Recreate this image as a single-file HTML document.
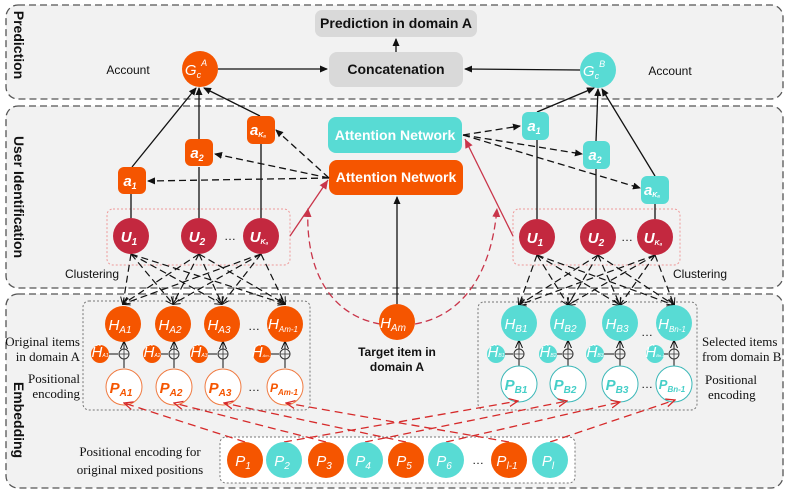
<!DOCTYPE html>
<html><head><meta charset="utf-8"><style>
html,body{margin:0;padding:0;background:#fff;}
svg{display:block;}
text{font-family:"Liberation Sans",sans-serif;}
.w{fill:#fff;font-style:italic;font-size:15px;text-anchor:middle;}
.s{font-family:"Liberation Serif",serif;font-size:13px;fill:#111;}
</style></head><body>
<svg width="790" height="492" viewBox="0 0 790 492" xmlns="http://www.w3.org/2000/svg">
<defs>
<marker id="ab" markerWidth="8" markerHeight="8" refX="7" refY="4" orient="auto" markerUnits="userSpaceOnUse"><path d="M0,0.5 L8,4 L0,7.5 Z" fill="#111"/></marker>
<marker id="ao" markerWidth="8" markerHeight="8" refX="7" refY="4" orient="auto" markerUnits="userSpaceOnUse"><path d="M0,0.5 L8,4 L0,7.5" fill="none" stroke="#111" stroke-width="1"/></marker>
<marker id="ar" markerWidth="10" markerHeight="10" refX="9" refY="5" orient="auto" markerUnits="userSpaceOnUse"><path d="M0,1 L9,5 L0,9" fill="none" stroke="#d62a2a" stroke-width="1.3"/></marker>
<marker id="arf" markerWidth="10" markerHeight="10" refX="9" refY="5" orient="auto" markerUnits="userSpaceOnUse"><path d="M0,1 L9,5 L0,9 Z" fill="#c9354a"/></marker>
</defs>
<!-- panels -->
<rect x="6" y="5" width="777" height="94" rx="12" fill="#f2f2f2" stroke="#555" stroke-width="1.3" stroke-dasharray="7,4"/>
<rect x="6" y="106" width="777" height="182" rx="12" fill="#f2f2f2" stroke="#555" stroke-width="1.3" stroke-dasharray="7,4"/>
<rect x="6" y="294" width="777" height="194" rx="12" fill="#f2f2f2" stroke="#555" stroke-width="1.3" stroke-dasharray="7,4"/>
<text transform="translate(14,45) rotate(90)" font-size="14" font-weight="bold" text-anchor="middle" fill="#111">Prediction</text>
<text transform="translate(14,197) rotate(90)" font-size="14" font-weight="bold" text-anchor="middle" fill="#111">User Identification</text>
<text transform="translate(14,420) rotate(90)" font-size="14" font-weight="bold" text-anchor="middle" fill="#111">Embedding</text>

<!-- prediction -->
<rect x="315" y="10" width="162" height="27" rx="7" fill="#d9d9d9"/>
<text x="396" y="28" font-size="14" font-weight="bold" text-anchor="middle" fill="#111">Prediction in domain A</text>
<rect x="329" y="52" width="134" height="35" rx="8" fill="#d9d9d9"/>
<text x="396" y="74" font-size="14" font-weight="bold" text-anchor="middle" fill="#111">Concatenation</text>
<line x1="396" y1="52" x2="396" y2="39" stroke="#111" stroke-width="1.3" marker-end="url(#ab)"/>
<circle cx="200" cy="69" r="18" fill="#f55500"/>
<text x="196" y="75" class="w" font-size="14">G<tspan font-size="9" dy="3">c</tspan><tspan font-size="9" dy="-12">A</tspan></text>
<circle cx="598" cy="70" r="18" fill="#58dbd4"/>
<text x="594" y="76" class="w" font-size="14">G<tspan font-size="9" dy="3">c</tspan><tspan font-size="9" dy="-12">B</tspan></text>
<text x="128" y="74" font-size="12" text-anchor="middle" fill="#111">Account</text>
<text x="670" y="75" font-size="12" text-anchor="middle" fill="#111">Account</text>
<line x1="218" y1="69" x2="327" y2="69" stroke="#111" stroke-width="1.3" marker-end="url(#ab)"/>
<line x1="580" y1="70" x2="465" y2="69" stroke="#111" stroke-width="1.3" marker-end="url(#ab)"/>

<!-- attention networks -->
<rect x="328" y="117" width="134" height="36" rx="8" fill="#58dbd4"/>
<text x="395" y="140" font-size="14" font-weight="bold" text-anchor="middle" fill="#fff">Attention Network</text>
<rect x="329" y="160" width="134" height="35" rx="8" fill="#f55500"/>
<text x="396" y="182" font-size="14" font-weight="bold" text-anchor="middle" fill="#fff">Attention Network</text>

<!-- clustering boxes -->
<rect x="107" y="209" width="183" height="56" rx="6" fill="none" stroke="#e99" stroke-width="1" stroke-dasharray="2,2"/>
<rect x="513" y="209" width="167" height="56" rx="6" fill="none" stroke="#e99" stroke-width="1" stroke-dasharray="2,2"/>
<text x="92" y="278" font-size="12" text-anchor="middle" fill="#111">Clustering</text>
<text x="700" y="278" font-size="12" text-anchor="middle" fill="#111">Clustering</text>

<g stroke="#111" stroke-width="1.3">
<line x1="131" y1="218" x2="131" y2="194"/>
<line x1="199" y1="218" x2="199" y2="167"/>
<line x1="261" y1="218" x2="261" y2="144"/>
<line x1="132" y1="167" x2="196" y2="88" marker-end="url(#ab)"/>
<line x1="199" y1="139" x2="199" y2="88" marker-end="url(#ab)"/>
<line x1="260" y1="116" x2="204" y2="88" marker-end="url(#ab)"/>
<line x1="537" y1="219" x2="537" y2="140"/>
<line x1="596" y1="219" x2="596" y2="169"/>
<line x1="655" y1="219" x2="655" y2="204"/>
<line x1="537" y1="112" x2="594" y2="88" marker-end="url(#ab)"/>
<line x1="596" y1="141" x2="598" y2="89" marker-end="url(#ab)"/>
<line x1="655" y1="176" x2="602" y2="89" marker-end="url(#ab)"/>
</g>
<g stroke="#111" stroke-width="1.3" stroke-dasharray="7,4">
<line x1="329" y1="178" x2="148" y2="181" marker-end="url(#ab)"/>
<line x1="329" y1="178" x2="215" y2="154" marker-end="url(#ab)"/>
<line x1="329" y1="178" x2="276" y2="130" marker-end="url(#ab)"/>
<line x1="463" y1="135" x2="520" y2="126" marker-end="url(#ab)"/>
<line x1="463" y1="135" x2="582" y2="154" marker-end="url(#ab)"/>
<line x1="463" y1="135" x2="640" y2="188" marker-end="url(#ab)"/>
</g>
<rect x="118" y="167" width="28" height="27" rx="6" fill="#f55500"/><text x="130" y="186" class="w" font-weight="bold">a<tspan font-size="9" dy="3">1</tspan></text>
<rect x="185" y="139" width="28" height="27" rx="6" fill="#f55500"/><text x="197" y="158" class="w" font-weight="bold">a<tspan font-size="9" dy="3">2</tspan></text>
<rect x="247" y="116" width="28" height="28" rx="6" fill="#f55500"/><text x="258" y="135" class="w" font-weight="bold">a<tspan font-size="7" dy="2">Kₐ</tspan></text>
<rect x="522" y="112" width="27" height="28" rx="6" fill="#58dbd4"/><text x="534" y="131" class="w" font-weight="bold">a<tspan font-size="9" dy="3">1</tspan></text>
<rect x="583" y="141" width="27" height="28" rx="6" fill="#58dbd4"/><text x="595" y="160" class="w" font-weight="bold">a<tspan font-size="9" dy="3">2</tspan></text>
<rect x="641" y="176" width="28" height="28" rx="6" fill="#58dbd4"/><text x="652" y="195" class="w" font-weight="bold">a<tspan font-size="7" dy="2">Kₐ</tspan></text>

<line x1="290" y1="236" x2="328" y2="180" stroke="#c9354a" stroke-width="1.3" marker-end="url(#arf)"/>
<line x1="513" y1="236" x2="465" y2="139" stroke="#c9354a" stroke-width="1.3" marker-end="url(#arf)"/>
<path d="M380,324 C330,315 305,270 308,208" fill="none" stroke="#c9354a" stroke-width="1.3" stroke-dasharray="7,4" marker-end="url(#arf)"/>
<path d="M415,324 C465,315 492,270 497,208" fill="none" stroke="#c9354a" stroke-width="1.3" stroke-dasharray="7,4" marker-end="url(#arf)"/>
<line x1="397" y1="304" x2="397" y2="197" stroke="#111" stroke-width="1.3" marker-end="url(#ab)"/>

<rect x="83" y="301" width="227" height="109" rx="6" fill="none" stroke="#777" stroke-width="1" stroke-dasharray="2,2"/>
<rect x="478" y="302" width="219" height="108" rx="6" fill="none" stroke="#777" stroke-width="1" stroke-dasharray="2,2"/>
<rect x="220" y="437" width="355" height="46" rx="6" fill="#fff" stroke="#777" stroke-width="1" stroke-dasharray="2,2"/>

<g stroke="#111" stroke-width="1.2" stroke-dasharray="7,4" fill="none">
<line x1="131" y1="254" x2="123" y2="304" marker-end="url(#ao)"/>
<line x1="131" y1="254" x2="173" y2="304" marker-end="url(#ao)"/>
<line x1="131" y1="254" x2="222" y2="304" marker-end="url(#ao)"/>
<line x1="131" y1="254" x2="285" y2="304" marker-end="url(#ao)"/>
<line x1="199" y1="254" x2="123" y2="304" marker-end="url(#ao)"/>
<line x1="199" y1="254" x2="173" y2="304" marker-end="url(#ao)"/>
<line x1="199" y1="254" x2="222" y2="304" marker-end="url(#ao)"/>
<line x1="199" y1="254" x2="285" y2="304" marker-end="url(#ao)"/>
<line x1="261" y1="254" x2="123" y2="304" marker-end="url(#ao)"/>
<line x1="261" y1="254" x2="173" y2="304" marker-end="url(#ao)"/>
<line x1="261" y1="254" x2="222" y2="304" marker-end="url(#ao)"/>
<line x1="261" y1="254" x2="285" y2="304" marker-end="url(#ao)"/>
<line x1="537" y1="255" x2="519" y2="305" marker-end="url(#ao)"/>
<line x1="537" y1="255" x2="568" y2="305" marker-end="url(#ao)"/>
<line x1="537" y1="255" x2="620" y2="305" marker-end="url(#ao)"/>
<line x1="537" y1="255" x2="674" y2="305" marker-end="url(#ao)"/>
<line x1="598" y1="255" x2="519" y2="305" marker-end="url(#ao)"/>
<line x1="598" y1="255" x2="568" y2="305" marker-end="url(#ao)"/>
<line x1="598" y1="255" x2="620" y2="305" marker-end="url(#ao)"/>
<line x1="598" y1="255" x2="674" y2="305" marker-end="url(#ao)"/>
<line x1="655" y1="255" x2="519" y2="305" marker-end="url(#ao)"/>
<line x1="655" y1="255" x2="568" y2="305" marker-end="url(#ao)"/>
<line x1="655" y1="255" x2="620" y2="305" marker-end="url(#ao)"/>
<line x1="655" y1="255" x2="674" y2="305" marker-end="url(#ao)"/>
</g>

<g fill="#c3283f">
<circle cx="131" cy="236" r="18"/><circle cx="199" cy="236" r="18"/><circle cx="261" cy="236" r="18"/>
<circle cx="537" cy="237" r="18"/><circle cx="598" cy="237" r="18"/><circle cx="655" cy="237" r="18"/>
</g>
<text x="129" y="242" class="w" font-weight="bold">U<tspan font-size="10" dy="3">1</tspan></text>
<text x="197" y="242" class="w" font-weight="bold">U<tspan font-size="10" dy="3">2</tspan></text>
<text x="259" y="242" class="w" font-weight="bold">U<tspan font-size="7" dy="2">Kₐ</tspan></text>
<text x="535" y="243" class="w" font-weight="bold">U<tspan font-size="10" dy="3">1</tspan></text>
<text x="596" y="243" class="w" font-weight="bold">U<tspan font-size="10" dy="3">2</tspan></text>
<text x="653" y="243" class="w" font-weight="bold">U<tspan font-size="7" dy="2">Kₐ</tspan></text>
<text x="230" y="240" font-size="12" text-anchor="middle" fill="#111">…</text>
<text x="627" y="241" font-size="12" text-anchor="middle" fill="#111">…</text>

<circle cx="397" cy="322" r="18" fill="#f55500"/>
<text x="393" y="328" class="w">H<tspan font-size="10" dy="3">Am</tspan></text>
<text x="397" y="356" font-size="12" font-weight="bold" text-anchor="middle" fill="#111">Target item in</text>
<text x="397" y="371" font-size="12" font-weight="bold" text-anchor="middle" fill="#111">domain A</text>

<g stroke="#111" stroke-width="1">
<line x1="124" y1="368" x2="124" y2="342" marker-end="url(#ao)"/>
<line x1="174" y1="368" x2="174" y2="342" marker-end="url(#ao)"/>
<line x1="223" y1="368" x2="223" y2="342" marker-end="url(#ao)"/>
<line x1="285" y1="368" x2="285" y2="342" marker-end="url(#ao)"/>
<line x1="108" y1="354" x2="118" y2="354"/><line x1="160" y1="354" x2="168" y2="354"/><line x1="207" y1="354" x2="217" y2="354"/><line x1="271" y1="354" x2="279" y2="354"/>
<line x1="519" y1="366" x2="519" y2="341" marker-end="url(#ao)"/>
<line x1="568" y1="366" x2="568" y2="341" marker-end="url(#ao)"/>
<line x1="620" y1="366" x2="620" y2="341" marker-end="url(#ao)"/>
<line x1="674" y1="366" x2="674" y2="341" marker-end="url(#ao)"/>
<line x1="505" y1="354" x2="513" y2="354"/><line x1="556" y1="354" x2="562" y2="354"/><line x1="604" y1="354" x2="614" y2="354"/><line x1="664" y1="354" x2="668" y2="354"/>
</g>
<g fill="#f2f2f2" stroke="#333" stroke-width="1">
<circle cx="124" cy="354" r="5"/><circle cx="174" cy="354" r="5"/><circle cx="223" cy="354" r="5"/><circle cx="285" cy="354" r="5"/>
<circle cx="519" cy="354" r="5"/><circle cx="568" cy="354" r="5"/><circle cx="620" cy="354" r="5"/><circle cx="674" cy="354" r="5"/>
</g>
<g stroke="#333" stroke-width="0.8">
<path d="M119,354h10M124,349v10M169,354h10M174,349v10M218,354h10M223,349v10M280,354h10M285,349v10"/>
<path d="M514,354h10M519,349v10M563,354h10M568,349v10M615,354h10M620,349v10M669,354h10M674,349v10"/>
</g>
<g fill="#f55500">
<circle cx="123" cy="324" r="18"/><circle cx="173" cy="324" r="18"/><circle cx="222" cy="324" r="18"/><circle cx="285" cy="324" r="18"/>
<circle cx="100" cy="354" r="9"/><circle cx="152" cy="354" r="9"/><circle cx="199" cy="354" r="9"/><circle cx="262" cy="354" r="9"/>
</g>
<g fill="#58dbd4">
<circle cx="519" cy="323" r="18"/><circle cx="568" cy="323" r="18"/><circle cx="620" cy="323" r="18"/><circle cx="674" cy="323" r="18"/>
<circle cx="496" cy="354" r="9"/><circle cx="548" cy="354" r="9"/><circle cx="595" cy="354" r="9"/><circle cx="655" cy="354" r="9"/>
</g>
<text x="120" y="330" class="w">H<tspan font-size="10" dy="3">A1</tspan></text>
<text x="170" y="330" class="w">H<tspan font-size="10" dy="3">A2</tspan></text>
<text x="219" y="330" class="w">H<tspan font-size="10" dy="3">A3</tspan></text>
<text x="283" y="329" class="w" font-size="12">H<tspan font-size="8" dy="3">Am-1</tspan></text>
<text x="516" y="329" class="w">H<tspan font-size="10" dy="3">B1</tspan></text>
<text x="565" y="329" class="w">H<tspan font-size="10" dy="3">B2</tspan></text>
<text x="617" y="329" class="w">H<tspan font-size="10" dy="3">B3</tspan></text>
<text x="672" y="329" class="w" font-size="13">H<tspan font-size="8" dy="3">Bn-1</tspan></text>
<text x="100" y="357" class="w" font-size="7">Ĥ<tspan font-size="5">A1</tspan></text>
<text x="152" y="357" class="w" font-size="7">Ĥ<tspan font-size="5">A2</tspan></text>
<text x="199" y="357" class="w" font-size="7">Ĥ<tspan font-size="5">A3</tspan></text>
<text x="262" y="357" class="w" font-size="6">Ĥ<tspan font-size="4">Am-1</tspan></text>
<text x="496" y="357" class="w" font-size="7">Ĥ<tspan font-size="5">B1</tspan></text>
<text x="548" y="357" class="w" font-size="7">Ĥ<tspan font-size="5">B2</tspan></text>
<text x="595" y="357" class="w" font-size="7">Ĥ<tspan font-size="5">B3</tspan></text>
<text x="655" y="357" class="w" font-size="6">Ĥ<tspan font-size="4">Bn-1</tspan></text>
<g fill="#fff" stroke-width="1">
<circle cx="124" cy="387" r="18" stroke="#f07a40"/><circle cx="174" cy="387" r="18" stroke="#f07a40"/><circle cx="223" cy="387" r="18" stroke="#f07a40"/><circle cx="285" cy="387" r="18" stroke="#f07a40"/>
<circle cx="519" cy="384" r="18" stroke="#3cb8b8"/><circle cx="568" cy="384" r="18" stroke="#3cb8b8"/><circle cx="620" cy="384" r="18" stroke="#3cb8b8"/><circle cx="674" cy="384" r="18" stroke="#3cb8b8"/>
</g>
<g font-style="italic" font-weight="bold" text-anchor="middle" fill="#f55500" font-size="15">
<text x="121" y="393">P<tspan font-size="10" dy="3">A1</tspan></text>
<text x="171" y="393">P<tspan font-size="10" dy="3">A2</tspan></text>
<text x="220" y="393">P<tspan font-size="10" dy="3">A3</tspan></text>
<text x="284" y="392" font-size="12">P<tspan font-size="8" dy="3">Am-1</tspan></text>
</g>
<g font-style="italic" font-weight="bold" text-anchor="middle" fill="#45cfc8" font-size="15">
<text x="516" y="390">P<tspan font-size="10" dy="3">B1</tspan></text>
<text x="565" y="390">P<tspan font-size="10" dy="3">B2</tspan></text>
<text x="617" y="390">P<tspan font-size="10" dy="3">B3</tspan></text>
<text x="672" y="389" font-size="13">P<tspan font-size="8" dy="3">Bn-1</tspan></text>
</g>
<g font-size="12" text-anchor="middle" fill="#111">
<text x="254" y="330">…</text><text x="254" y="391">…</text>
<text x="647" y="336">…</text><text x="647" y="388">…</text>
<text x="478" y="464">…</text>
</g>

<g stroke="#d62a2a" stroke-width="1.3" stroke-dasharray="8,5" fill="none">
<line x1="245" y1="442" x2="124" y2="403" marker-end="url(#ar)"/>
<line x1="326" y1="442" x2="174" y2="403" marker-end="url(#ar)"/>
<line x1="406" y1="442" x2="224" y2="403" marker-end="url(#ar)"/>
<line x1="509" y1="442" x2="286" y2="403" marker-end="url(#ar)"/>
<line x1="284" y1="442" x2="518" y2="401" marker-end="url(#ar)"/>
<line x1="365" y1="442" x2="567" y2="401" marker-end="url(#ar)"/>
<line x1="446" y1="442" x2="620" y2="402" marker-end="url(#ar)"/>
<line x1="550" y1="442" x2="675" y2="400" marker-end="url(#ar)"/>
</g>

<circle cx="245" cy="460" r="18" fill="#f55500"/><circle cx="284" cy="460" r="18" fill="#58dbd4"/>
<circle cx="326" cy="460" r="18" fill="#f55500"/><circle cx="365" cy="460" r="18" fill="#58dbd4"/>
<circle cx="406" cy="460" r="18" fill="#f55500"/><circle cx="446" cy="460" r="18" fill="#58dbd4"/>
<circle cx="509" cy="460" r="18" fill="#f55500"/><circle cx="550" cy="460" r="18" fill="#58dbd4"/>
<text x="243" y="466" class="w">P<tspan font-size="10" dy="3">1</tspan></text>
<text x="282" y="466" class="w">P<tspan font-size="10" dy="3">2</tspan></text>
<text x="324" y="466" class="w">P<tspan font-size="10" dy="3">3</tspan></text>
<text x="363" y="466" class="w">P<tspan font-size="10" dy="3">4</tspan></text>
<text x="404" y="466" class="w">P<tspan font-size="10" dy="3">5</tspan></text>
<text x="444" y="466" class="w">P<tspan font-size="10" dy="3">6</tspan></text>
<text x="507" y="466" class="w">P<tspan font-size="10" dy="3">l-1</tspan></text>
<text x="548" y="466" class="w">P<tspan font-size="10" dy="3">l</tspan></text>

<text x="140" y="456" class="s" text-anchor="middle">Positional encoding for</text>
<text x="140" y="474" class="s" text-anchor="middle">original mixed positions</text>
<text x="80" y="346" class="s" text-anchor="end">Original items</text>
<text x="80" y="361" class="s" text-anchor="end">in domain A</text>
<text x="80" y="383" class="s" text-anchor="end">Positional</text>
<text x="80" y="398" class="s" text-anchor="end">encoding</text>
<text x="702" y="346" class="s">Selected items</text>
<text x="702" y="361" class="s">from domain B</text>
<text x="705" y="384" class="s">Positional</text>
<text x="708" y="399" class="s">encoding</text>
</svg>
</body></html>
